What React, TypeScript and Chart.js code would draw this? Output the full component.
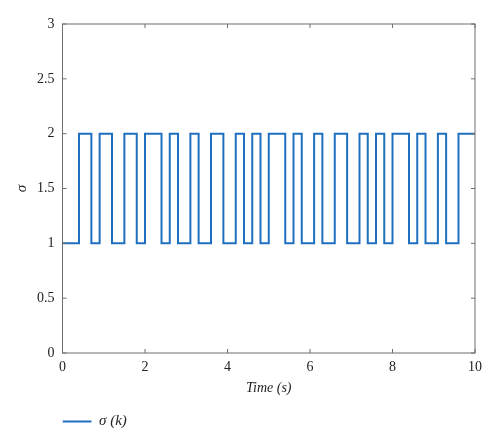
import React, { useEffect, useRef } from 'react';
import { Chart, registerables } from 'chart.js';

Chart.register(...registerables);

// switching instants (s) and the active mode sigma(k) from each instant on
const switchTimes = [
  0, 0.4, 0.7, 0.9, 1.2, 1.5, 1.8, 2.0, 2.4, 2.6, 2.8, 3.1, 3.3, 3.6, 3.9, 4.2, 4.4, 4.6, 4.8,
  5.0, 5.4, 5.6, 5.8, 6.1, 6.3, 6.6, 6.9, 7.2, 7.4, 7.6, 7.8, 8.0, 8.4, 8.6, 8.8, 9.1, 9.3, 9.6, 10,
];
const modes = [
  1, 2, 1, 2, 1, 2, 1, 2, 1, 2, 1, 2, 1, 2, 1, 2, 1, 2, 1,
  2, 1, 2, 1, 2, 1, 2, 1, 2, 1, 2, 1, 2, 1, 2, 1, 2, 1, 2, 2,
];
const xTicks = [0, 2, 4, 6, 8, 10];
const yTicks = [0, 0.5, 1, 1.5, 2, 2.5, 3];

const axisColor = '#6f6f6f';
const serif = '"Liberation Serif", "DejaVu Serif", serif';

// MATLAB-like box with inward tick marks on all four sides
const boxPlugin = {
  id: 'boxPlugin',
  afterDraw(chart: any) {
    const { ctx, chartArea: a, scales } = chart;
    const len = 4;
    ctx.save();
    ctx.strokeStyle = axisColor;
    ctx.lineWidth = 1;
    ctx.strokeRect(a.left, a.top, a.right - a.left, a.bottom - a.top);
    ctx.beginPath();
    xTicks.forEach((v) => {
      const px = scales.x.getPixelForValue(v);
      ctx.moveTo(px, a.bottom);
      ctx.lineTo(px, a.bottom - len);
      ctx.moveTo(px, a.top);
      ctx.lineTo(px, a.top + len);
    });
    yTicks.forEach((v) => {
      const py = scales.y.getPixelForValue(v);
      ctx.moveTo(a.left, py);
      ctx.lineTo(a.left + len, py);
      ctx.moveTo(a.right, py);
      ctx.lineTo(a.right - len, py);
    });
    ctx.stroke();
    ctx.restore();
  },
};

const App: React.FC = () => {
  const canvasRef = useRef<HTMLCanvasElement | null>(null);

  useEffect(() => {
    document.body.style.margin = '0';
    if (!canvasRef.current) return;

    const chart = new Chart(canvasRef.current, {
      type: 'line',
      data: {
        datasets: [
          {
            label: 'σ (k)',
            data: switchTimes.map((t, i) => ({ x: t, y: modes[i] })),
            stepped: 'before',
            borderColor: '#1f6fbf',
            backgroundColor: '#1f6fbf',
            borderWidth: 2,
            pointRadius: 0,
            fill: false,
          },
        ],
      },
      options: {
        animation: false,
        responsive: true,
        maintainAspectRatio: false,
        layout: { padding: { top: 24, right: 25, bottom: 8, left: 0 } },
        plugins: {
          tooltip: { enabled: false },
          legend: {
            position: 'bottom',
            align: 'start',
            fullSize: false,
            labels: {
              usePointStyle: true,
              pointStyle: 'line',
              pointStyleWidth: 29,
              padding: 0,
              color: '#222',
              font: { family: serif, size: 15, style: 'italic' },
            },
          },
        },
        scales: {
          x: {
            type: 'linear',
            min: 0,
            max: 10,
            afterBuildTicks: (scale: any) => {
              scale.ticks = xTicks.map((v) => ({ value: v }));
            },
            afterFit: (scale: any) => {
              scale.height = 61;
            },
            grid: { display: false, drawTicks: false },
            border: { display: false },
            ticks: {
              padding: 6,
              color: '#222',
              font: { family: serif, size: 14 },
              maxRotation: 0,
            },
            title: {
              display: true,
              text: 'Time (s)',
              color: '#222',
              font: { family: serif, size: 14, style: 'italic' },
              padding: { top: 0, bottom: 17 },
            },
          },
          y: {
            type: 'linear',
            min: 0,
            max: 3,
            afterBuildTicks: (scale: any) => {
              scale.ticks = yTicks.map((v) => ({ value: v }));
            },
            afterFit: (scale: any) => {
              scale.width = 62.5;
            },
            grid: { display: false, drawTicks: false },
            border: { display: false },
            ticks: {
              padding: 8,
              color: '#222',
              font: { family: serif, size: 14 },
              callback: (v: any) => String(v),
            },
            title: {
              display: true,
              text: 'σ',
              color: '#222',
              font: { family: serif, size: 15, style: 'italic' },
              padding: { top: 13, bottom: 0 },
            },
          },
        },
      },
      plugins: [boxPlugin],
    } as any);

    return () => {
      chart.destroy();
    };
  }, []);

  return (
    <div style={{ position: 'relative', width: 500, height: 447 }}>
      <canvas ref={canvasRef} />
    </div>
  );
};

export default App;
